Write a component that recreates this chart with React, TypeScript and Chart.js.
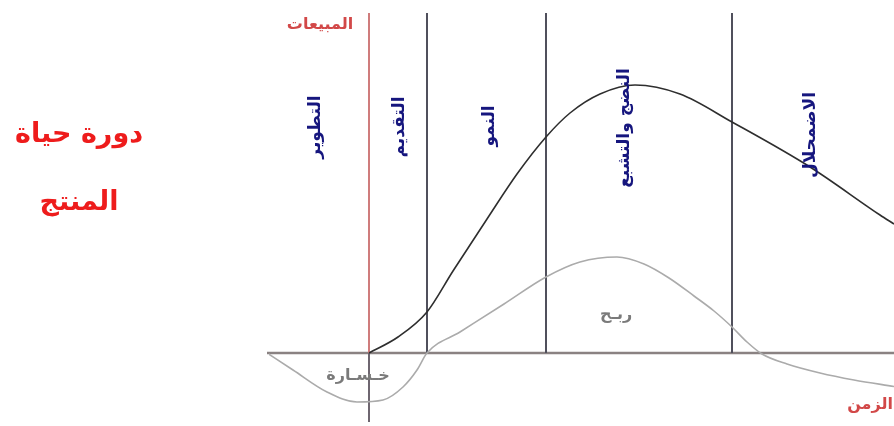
import React, { useEffect, useRef } from "react";
import { Chart, registerables } from "chart.js";

Chart.register(...registerables);

// ---- data (time units on x, sales/profit units on y) ----
const timeRange = [-10, 52.5];
const valueRange = [-7, 34];

const salesTime = [0, 2.9, 5.8, 8.4, 11.8, 14.8, 17.7, 20.1, 23.1, 26.6, 31.1, 36.3, 44.1, 51.1, 52.5];
const salesValues = [0, 1.6, 4.1, 8.2, 13.4, 17.9, 21.6, 24.0, 25.9, 26.8, 25.9, 23.1, 18.6, 13.8, 12.9];

const profitTime = [-10.2, -7.6, -4.2, -1.2, 1.4, 3.4, 4.8, 5.8, 9.1, 13.5, 17.7, 21.1, 24.8, 27.5, 30.0, 32.5, 34.5, 36.3, 37.8, 39.3, 41.8, 45.1, 48.5, 52.5];
const profitValues = [0, -1.7, -3.9, -4.9, -4.7, -3.4, -1.7, 0, 2.1, 4.9, 7.6, 9.1, 9.6, 8.9, 7.5, 5.7, 4.2, 2.6, 1.1, -0.1, -1.1, -2.0, -2.7, -3.35];

const phaseBoundaries = [5.8, 17.7, 36.3];
const phaseNames = ["التطوير", "التقديم", "النمو", "النضج والتشبع", "الاضمحلال"];
const phaseLabelTime = [-5.3, 3.1, 12.1, 25.6, 44.2];
const phaseLabelValue = [22.6, 22.6, 22.7, 22.5, 21.8];

const axisLabels = ["المبيعات", "الزمن"];
const axisLabelTime = [-4.9, 50.1];
const axisLabelValue = [32.8, -5.2];

const areaLabels = ["خـسـارة", "ربـح"];
const areaLabelTime = [-1.1, 24.7];
const areaLabelValue = [-2.3, 3.8];

const titleLines = ["دورة حياة", "المنتج"];

const decorPlugin = {
  id: "lifecycleDecor",
  beforeDatasetsDraw(chart: any) {
    const { ctx, scales } = chart;
    const xs = scales.x;
    const ys = scales.y;
    const y0 = ys.getPixelForValue(0);
    const yTop = ys.getPixelForValue(valueRange[1]);
    const yBot = ys.getPixelForValue(valueRange[0]) - 1;
    ctx.save();
    // baseline (time axis)
    ctx.strokeStyle = "#8a8282";
    ctx.lineWidth = 2.5;
    ctx.beginPath();
    ctx.moveTo(xs.getPixelForValue(timeRange[0]) - 2, y0);
    ctx.lineTo(xs.getPixelForValue(timeRange[1]), y0);
    ctx.stroke();
    // phase boundary lines
    ctx.strokeStyle = "#50505c";
    ctx.lineWidth = 2;
    phaseBoundaries.forEach((t) => {
      const px = xs.getPixelForValue(t);
      ctx.beginPath();
      ctx.moveTo(px, yTop);
      ctx.lineTo(px, y0);
      ctx.stroke();
    });
    // vertical (sales) axis
    const ax = xs.getPixelForValue(0);
    ctx.strokeStyle = "#cf7c7c";
    ctx.beginPath();
    ctx.moveTo(ax, yTop);
    ctx.lineTo(ax, y0);
    ctx.stroke();
    ctx.strokeStyle = "#6e6670";
    ctx.beginPath();
    ctx.moveTo(ax, y0);
    ctx.lineTo(ax, yBot);
    ctx.stroke();
    ctx.restore();
  },
  afterDatasetsDraw(chart: any) {
    const { ctx, scales } = chart;
    const xs = scales.x;
    const ys = scales.y;
    ctx.save();
    ctx.textAlign = "center";
    ctx.textBaseline = "middle";
    ctx.direction = "rtl";
    // phase labels (rotated)
    ctx.fillStyle = "#16167e";
    ctx.font = "bold 17px 'DejaVu Sans'";
    phaseNames.forEach((name, i) => {
      ctx.save();
      ctx.translate(xs.getPixelForValue(phaseLabelTime[i]), ys.getPixelForValue(phaseLabelValue[i]));
      ctx.rotate(-Math.PI / 2);
      ctx.fillText(name, 0, 0);
      ctx.restore();
    });
    // axis labels
    ctx.fillStyle = "#d24848";
    ctx.font = "bold 16px 'DejaVu Sans'";
    axisLabels.forEach((name, i) => {
      ctx.fillText(name, xs.getPixelForValue(axisLabelTime[i]), ys.getPixelForValue(axisLabelValue[i]));
    });
    // area labels
    ctx.fillStyle = "#7a7a7a";
    ctx.font = "bold 16px 'DejaVu Sans'";
    areaLabels.forEach((name, i) => {
      ctx.fillText(name, xs.getPixelForValue(areaLabelTime[i]), ys.getPixelForValue(areaLabelValue[i]));
    });
    ctx.restore();
  },
};

export default function App() {
  const canvasRef = useRef<HTMLCanvasElement | null>(null);

  useEffect(() => {
    if (!canvasRef.current) return;
    const chart = new Chart(canvasRef.current, {
      type: "line",
      data: {
        datasets: [
          {
            label: "المبيعات",
            data: salesTime.map((t, i) => ({ x: t, y: salesValues[i] })),
            borderColor: "#2e2e2e",
            borderWidth: 1.6,
            pointRadius: 0,
            cubicInterpolationMode: "monotone",
            fill: false,
          },
          {
            label: "الربح",
            data: profitTime.map((t, i) => ({ x: t, y: profitValues[i] })),
            borderColor: "#ababab",
            borderWidth: 1.6,
            pointRadius: 0,
            cubicInterpolationMode: "monotone",
            fill: false,
          },
        ],
      },
      options: {
        animation: false,
        responsive: true,
        maintainAspectRatio: false,
        layout: { padding: { left: 269, right: 0, top: 13, bottom: 3 } },
        scales: {
          x: { type: "linear", min: timeRange[0], max: timeRange[1], display: false },
          y: { type: "linear", min: valueRange[0], max: valueRange[1], display: false },
        },
        plugins: {
          legend: { display: false },
          tooltip: { enabled: false },
          title: { display: false },
        },
      },
      plugins: [decorPlugin],
    });
    return () => chart.destroy();
  }, []);

  return (
    <div style={{ position: "absolute", left: 0, top: 0, width: 894, height: 426, background: "#fff" }}>
      <canvas ref={canvasRef} />
      <div
        dir="rtl"
        style={{
          position: "absolute",
          left: 0,
          top: 99,
          width: 158,
          textAlign: "center",
          color: "#ee1c1c",
          fontFamily: "'DejaVu Sans', sans-serif",
          fontWeight: "bold",
          fontSize: 27,
          lineHeight: "68px",
        }}
      >
        <div>{titleLines[0]}</div>
        <div>{titleLines[1]}</div>
      </div>
    </div>
  );
}
